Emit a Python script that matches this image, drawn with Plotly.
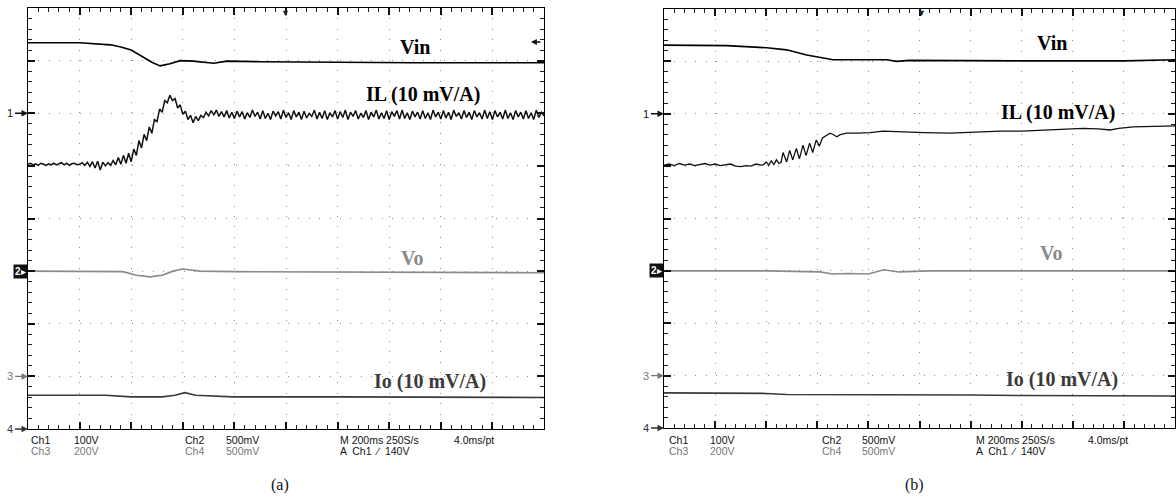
import plotly.graph_objects as go

W, H = 1176, 499

# ---------------- Panel (a) data (x: divisions, y: divisions from top) ----------------
vin_a_x = [0, 1.0, 1.6, 1.8, 2.0, 2.2, 2.4, 2.56, 2.75, 2.95, 3.2, 3.6, 3.85, 4.5, 5.5, 6.5, 7.5, 8.5, 10]
vin_a_y = [0.66, 0.66, 0.70, 0.74, 0.80, 0.91, 1.03, 1.10, 1.06, 1.00, 1.01, 1.05, 1.01, 1.02, 1.03, 1.03, 1.04, 1.04, 1.04]

# IL (a): sampled every 0.05 div
il_a_y = [
    2.97, 2.95, 2.98, 2.96, 2.99, 2.95, 2.97, 2.99, 2.96, 2.98,
    2.95, 2.98, 2.96, 2.94, 2.98, 2.95, 2.99, 2.96, 2.95, 2.98,
    2.97, 2.94, 2.99, 2.93, 3.01, 2.92, 3.04, 2.91, 3.08, 2.93,
    3.00, 2.94, 2.99, 2.90, 2.98, 2.84, 2.97, 2.80, 2.95, 2.76,
    2.92, 2.68, 2.80, 2.52, 2.66, 2.40, 2.52, 2.26, 2.38, 2.12,
    2.16, 1.92, 1.98, 1.76, 1.80, 1.66, 1.76, 1.72, 1.90, 1.84,
    2.02, 1.96, 2.12, 2.04, 2.18, 2.06, 2.14, 2.04, 2.08, 1.98,
    2.05, 1.95, 2.03, 1.94, 2.06, 1.97, 2.07, 1.95, 2.09, 1.98,
    2.10, 1.96, 2.07, 1.97, 2.11, 1.99, 2.08, 1.94, 2.06, 1.98,
    2.11, 1.95, 2.10, 2.00, 2.12, 1.96, 2.05, 1.97, 2.11, 1.94,
    2.08, 1.99, 2.12, 1.95, 2.07, 1.98, 2.12, 1.96, 2.09, 2.00,
    2.06, 1.94, 2.11, 1.98, 2.10, 1.95, 2.12, 1.99, 2.07, 1.95,
    2.11, 1.97, 2.08, 1.94, 2.12, 1.98, 2.06, 1.95, 2.11, 2.00,
    2.08, 1.95, 2.12, 1.98, 2.07, 1.94, 2.11, 1.99, 2.10, 1.95,
    2.12, 1.97, 2.06, 1.95, 2.11, 1.94, 2.10, 1.99, 2.12, 1.96,
    2.07, 1.98, 2.11, 1.95, 2.10, 1.99, 2.12, 1.94, 2.07, 1.98,
    2.11, 1.95, 2.09, 1.98, 2.12, 1.94, 2.06, 1.99, 2.11, 1.95,
    2.08, 1.98, 2.12, 1.95, 2.07, 1.99, 2.11, 1.94, 2.10, 1.97,
    2.12, 1.95, 2.07, 1.98, 2.11, 1.94, 2.10, 1.99, 2.12, 1.95,
    2.07, 1.98, 2.11, 1.95, 2.10, 1.99, 2.12, 1.94, 2.08, 1.98,
    2.05,
]
il_a_step = 0.05

vo_a_x = [0, 1.5, 1.84, 2.1, 2.36, 2.6, 2.81, 3.0, 3.33, 4.0, 6, 8, 10]
vo_a_y = [5.0, 5.0, 5.01, 5.08, 5.11, 5.08, 5.0, 4.96, 5.0, 5.01, 5.02, 5.02, 5.03]

io_a_x = [0, 1.5, 2.0, 2.6, 2.85, 3.04, 3.25, 3.97, 6, 8, 10]
io_a_y = [7.36, 7.36, 7.39, 7.39, 7.36, 7.31, 7.36, 7.39, 7.39, 7.40, 7.40]

# ---------------- Panel (b) data ----------------
vin_b_x = [0, 1.23, 2.01, 2.40, 2.79, 3.05, 3.31, 4.36, 4.55, 4.8, 6, 7, 8, 9, 10]
vin_b_y = [0.69, 0.70, 0.74, 0.78, 0.88, 0.93, 0.97, 0.97, 1.00, 0.98, 0.99, 0.99, 0.99, 0.99, 0.97]

il_b_x = [0, 0.1, 0.2, 0.3, 0.4, 0.5, 0.6, 0.7, 0.8, 0.9, 1.0, 1.1, 1.2, 1.3, 1.4, 1.5, 1.6, 1.7, 1.8, 1.9,
          1.95, 2.0, 2.05, 2.1, 2.15, 2.2, 2.25, 2.29,
          2.33, 2.40, 2.46, 2.52, 2.59, 2.65, 2.72, 2.78, 2.85, 2.91, 2.98, 3.04, 3.10,
          3.18, 3.25, 3.32, 3.38, 3.45, 3.57, 3.8, 4.03, 4.29, 4.5, 4.81, 5.1, 5.6, 6.1, 6.58,
          7.0, 7.55, 7.9, 8.2, 8.5, 8.73, 8.9, 9.18, 9.6, 10]
il_b_y = [2.98, 2.96, 2.99, 2.95, 2.98, 2.96, 2.99, 2.97, 2.95, 2.98, 2.96, 2.99, 2.97, 2.96, 3.00, 3.01, 2.99, 3.00, 2.96, 2.98,
          2.97, 2.92, 2.98, 2.90, 2.97, 2.88, 2.95, 2.93,
          2.74, 2.92, 2.70, 2.88, 2.66, 2.86, 2.60, 2.80, 2.56, 2.74, 2.50, 2.62, 2.46,
          2.42, 2.37, 2.40, 2.44, 2.40, 2.37, 2.37, 2.36, 2.33, 2.34, 2.36, 2.36, 2.37, 2.35, 2.33,
          2.33, 2.31, 2.30, 2.28, 2.29, 2.31, 2.28, 2.25, 2.24, 2.23]

vo_b_x = [0, 2.0, 3.05, 3.3, 3.6, 4.0, 4.3, 4.6, 5.2, 7, 10]
vo_b_y = [5.0, 5.0, 5.02, 5.06, 5.05, 5.06, 4.98, 5.02, 5.0, 5.0, 5.0]

io_b_x = [0, 1, 2, 2.4, 3, 4, 5, 6, 7, 8, 9, 10]
io_b_y = [7.33, 7.33, 7.34, 7.36, 7.36, 7.36, 7.37, 7.37, 7.38, 7.38, 7.39, 7.39]

trace_labels = ["Vin", "IL (10 mV/A)", "Vo", "Io (10 mV/A)"]
label_a_pos = [(7.5, 0.74), (7.65, 1.65), (7.46, 4.75), (7.79, 7.09)]
label_b_pos = [(7.59, 0.65), (7.71, 1.98), (7.59, 4.66), (7.79, 7.08)]
label_colors = ["#000000", "#000000", "#8a8a8a", "#3a3a3a"]

info_top = ["Ch1", "100V", "Ch2", "500mV", "M 200ms 250S/s", "4.0ms/pt"]
info_bot = ["Ch3", "200V", "Ch4", "500mV", "A  Ch1  \u2215  140V"]
panel_names = ["(a)", "(b)"]

# ---------------- layout geometry (pixels) ----------------
box_a = (28, 8, 544, 429)
box_b = (664, 9, 1175, 428)


def px(x):
    return x / W


def py(y):
    return 1 - y / H


fig = go.Figure()

il_a_x = [i * il_a_step for i in range(len(il_a_y))]

series = [
    ("x", "y", vin_a_x, vin_a_y, "#000000", 1.6),
    ("x", "y", il_a_x, il_a_y, "#111111", 1.5),
    ("x", "y", vo_a_x, vo_a_y, "#8a8a8a", 1.6),
    ("x", "y", io_a_x, io_a_y, "#3a3a3a", 1.6),
    ("x2", "y2", vin_b_x, vin_b_y, "#000000", 1.6),
    ("x2", "y2", il_b_x, il_b_y, "#111111", 1.3),
    ("x2", "y2", vo_b_x, vo_b_y, "#8a8a8a", 1.6),
    ("x2", "y2", io_b_x, io_b_y, "#3a3a3a", 1.6),
]
for xa, ya, xs, ys, col, wd in series:
    fig.add_trace(go.Scatter(x=xs, y=ys, xaxis=xa, yaxis=ya, mode="lines",
                             line=dict(color=col, width=wd), hoverinfo="skip", showlegend=False))

axis_common = dict(
    showline=True, linecolor="black", linewidth=1, mirror="ticks",
    ticks="inside", ticklen=7, tickcolor="#111", tickwidth=2,
    showticklabels=False, zeroline=False,
    showgrid=True, gridcolor="#8c8c8c", gridwidth=1, griddash="1px,9.4px",
    minor=dict(ticks="inside", ticklen=4, tickcolor="#222", tickwidth=1, dtick=0.2),
    dtick=1,
)

fig.update_layout(
    width=W, height=H, margin=dict(l=0, r=0, t=0, b=0),
    paper_bgcolor="white", plot_bgcolor="white", showlegend=False,
    xaxis=dict(domain=[px(box_a[0]), px(box_a[2])], range=[0, 10], anchor="y", **axis_common),
    yaxis=dict(domain=[py(box_a[3]), py(box_a[1])], range=[8, 0], anchor="x", **axis_common),
    xaxis2=dict(domain=[px(box_b[0]), px(box_b[2])], range=[0, 10], anchor="y2", **axis_common),
    yaxis2=dict(domain=[py(box_b[3]), py(box_b[1])], range=[8, 0], anchor="x2", **axis_common),
)

ann = []
serif = "Liberation Serif, Times New Roman, serif"
sans = "Liberation Sans, Arial, sans-serif"

# trace labels
for (xa, ya, pos) in [("x", "y", label_a_pos), ("x2", "y2", label_b_pos)]:
    for txt, (lx, ly), col in zip(trace_labels, pos, label_colors):
        ann.append(dict(x=lx, y=ly, xref=xa, yref=ya, text="<b>%s</b>" % txt, showarrow=False,
                        font=dict(family=serif, size=20, color=col), xanchor="center", yanchor="middle"))

# info text under each panel
info_x_a = [29, 72, 183, 224, 338, 452]
info_x_b = [667, 708, 820, 860, 974, 1086]
for xs in (info_x_a, info_x_b):
    for txt, x0 in zip(info_top, xs):
        ann.append(dict(x=px(x0), y=py(440), xref="paper", yref="paper", text=txt, showarrow=False,
                        font=dict(family=sans, size=10.5, color="#111"), xanchor="left", yanchor="middle"))
    for i, (txt, x0) in enumerate(zip(info_bot, xs[:5])):
        col = "#777" if i < 4 else "#111"
        ann.append(dict(x=px(x0), y=py(451), xref="paper", yref="paper", text=txt, showarrow=False,
                        font=dict(family=sans, size=10.5, color=col), xanchor="left", yanchor="middle"))

# panel captions
for name, cx in zip(panel_names, [280, 915]):
    ann.append(dict(x=px(cx), y=py(485), xref="paper", yref="paper", text=name, showarrow=False,
                    font=dict(family=serif, size=16, color="#111"), xanchor="center", yanchor="middle"))

# channel ground markers on the left edges
for (xa, ya) in [("x", "y"), ("x2", "y2")]:
    for txt, lvl, col in [("1", 2, "#111"), ("3", 7, "#777"), ("4", 8, "#333")]:
        ann.append(dict(x=0, y=lvl, xref=xa, yref=ya, text=txt, showarrow=True, ax=-13, ay=0,
                        arrowhead=2, arrowsize=1, arrowwidth=1.3, arrowcolor=col, standoff=0,
                        font=dict(family=sans, size=11, color=col), xanchor="right"))
    ann.append(dict(x=0, y=5, xref=xa, yref=ya, text="<b>2</b>\u25b8", showarrow=False,
                    bgcolor="#111", font=dict(family=sans, size=10, color="white"),
                    xanchor="right", yanchor="middle", borderpad=1))

# trigger position markers on top
for mx in (285, 921):
    ann.append(dict(x=px(mx), y=py(12), xref="paper", yref="paper", text="\u25bc", showarrow=False,
                    font=dict(size=9, color="#222"), xanchor="center", yanchor="middle"))
# trigger level arrow on the right of panel (a)
ann.append(dict(x=px(531), y=py(42), xref="paper", yref="paper", text="", showarrow=True,
                ax=11, ay=0, arrowhead=2, arrowsize=0.9, arrowwidth=1.3, arrowcolor="#111"))

fig.update_layout(annotations=ann)
fig.write_html("out.html", config={"displayModeBar": False, "staticPlot": True},
               post_script="document.body.style.margin='0';document.body.style.overflow='hidden';")
